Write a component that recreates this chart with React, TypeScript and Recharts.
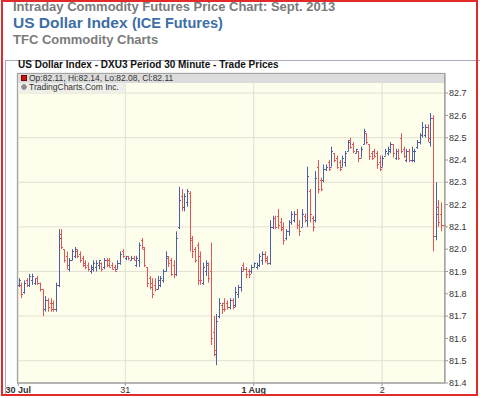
import { ComposedChart, Bar, XAxis, YAxis, CartesianGrid } from 'recharts';

// 30-minute OHLC bars, [open, high, low, close], one array per trading day
const jul30 = [
  [81.84, 81.87, 81.83, 81.86], [81.84, 81.85, 81.78, 81.8], [81.81, 81.86, 81.8, 81.85], [81.86, 81.87, 81.83, 81.84],
  [81.84, 81.89, 81.83, 81.88], [81.86, 81.89, 81.84, 81.88], [81.85, 81.87, 81.84, 81.87], [81.87, 81.88, 81.84, 81.85],
  [81.85, 81.85, 81.81, 81.82], [81.82, 81.82, 81.7, 81.73], [81.73, 81.79, 81.72, 81.77], [81.77, 81.78, 81.72, 81.74],
  [81.76, 81.78, 81.72, 81.73], [81.76, 81.77, 81.72, 81.73], [81.73, 81.85, 81.72, 81.84], [81.84, 82.09, 81.83, 82.05],
  [82.07, 82.09, 82.0, 82.01], [82.0, 82.0, 81.94, 81.95], [81.97, 81.99, 81.91, 81.93], [81.91, 81.96, 81.9, 81.95],
  [81.95, 82.0, 81.95, 81.99], [81.97, 82.01, 81.96, 82.0], [81.99, 82.0, 81.96, 81.97], [81.98, 81.99, 81.94, 81.95],
  [81.96, 81.97, 81.92, 81.93], [81.94, 81.95, 81.91, 81.92], [81.93, 81.94, 81.9, 81.91], [81.9, 81.93, 81.89, 81.92],
  [81.91, 81.95, 81.9, 81.94], [81.92, 81.95, 81.9, 81.94], [81.93, 81.95, 81.91, 81.95], [81.94, 81.94, 81.9, 81.91],
  [81.92, 81.96, 81.91, 81.95], [81.95, 81.96, 81.92, 81.93], [81.95, 81.96, 81.92, 81.92], [81.93, 81.94, 81.91, 81.91],
  [81.92, 81.93, 81.9, 81.9], [81.91, 81.95, 81.91, 81.94], [81.94, 81.99, 81.93, 81.98], [81.99, 82.0, 81.96, 81.97],
];

const jul31 = [
  [81.96, 81.97, 81.95, 81.97], [81.97, 81.97, 81.95, 81.96], [81.95, 81.97, 81.95, 81.96], [81.96, 81.97, 81.95, 81.95],
  [81.93, 81.97, 81.92, 81.96], [81.95, 82.03, 81.92, 82.02], [82.04, 82.05, 82.0, 82.01], [82.0, 82.01, 81.92, 81.93],
  [81.92, 81.92, 81.83, 81.85], [81.87, 81.88, 81.82, 81.83], [81.85, 81.87, 81.78, 81.8], [81.84, 81.87, 81.81, 81.82],
  [81.82, 81.88, 81.82, 81.86], [81.84, 81.88, 81.83, 81.87], [81.86, 81.91, 81.85, 81.9], [81.9, 81.99, 81.9, 81.97],
  [81.96, 81.97, 81.92, 81.94], [81.95, 81.96, 81.88, 81.89], [81.93, 81.95, 81.87, 81.89], [81.89, 82.08, 81.88, 82.05],
  [82.1, 82.28, 82.09, 82.22], [82.24, 82.27, 82.17, 82.19], [82.19, 82.25, 82.17, 82.24], [82.21, 82.27, 82.19, 82.26],
  [82.25, 82.26, 81.99, 82.04], [82.05, 82.06, 81.96, 81.99], [82.0, 82.01, 81.94, 81.95], [82.02, 82.03, 81.84, 81.86],
  [81.97, 81.99, 81.84, 81.86], [81.85, 81.94, 81.84, 81.92], [81.9, 81.95, 81.88, 81.94], [81.93, 81.94, 81.85, 81.87],
  [81.9, 82.03, 81.57, 81.6], [81.63, 81.7, 81.52, 81.55], [81.53, 81.71, 81.48, 81.68], [81.7, 81.78, 81.69, 81.76],
  [81.75, 81.76, 81.71, 81.73], [81.76, 81.78, 81.72, 81.73], [81.76, 81.77, 81.73, 81.74], [81.74, 81.78, 81.73, 81.77],
  [81.77, 81.78, 81.73, 81.74], [81.75, 81.83, 81.74, 81.81], [81.8, 81.84, 81.78, 81.83], [81.83, 81.92, 81.81, 81.9],
  [81.93, 81.94, 81.9, 81.91], [81.91, 81.92, 81.87, 81.89], [81.9, 81.91, 81.87, 81.89], [81.9, 81.93, 81.89, 81.92],
];

const aug1 = [
  [81.92, 81.94, 81.92, 81.94], [81.92, 81.94, 81.91, 81.93], [81.93, 81.98, 81.92, 81.97], [81.95, 81.99, 81.93, 81.98],
  [81.98, 81.99, 81.94, 81.95], [81.96, 81.97, 81.93, 81.94], [81.94, 82.13, 81.93, 82.1], [82.1, 82.15, 82.09, 82.14],
  [82.14, 82.15, 82.09, 82.1], [82.15, 82.18, 82.09, 82.11], [82.12, 82.14, 82.08, 82.09], [82.1, 82.12, 82.02, 82.04],
  [82.05, 82.09, 82.04, 82.08], [82.08, 82.13, 82.06, 82.12], [82.12, 82.17, 82.11, 82.16], [82.13, 82.17, 82.12, 82.16],
  [82.16, 82.18, 82.09, 82.11], [82.11, 82.13, 82.06, 82.08], [82.1, 82.18, 82.1, 82.16], [82.15, 82.16, 82.12, 82.13],
  [82.13, 82.37, 82.1, 82.33], [82.26, 82.27, 82.12, 82.16], [82.14, 82.15, 82.08, 82.1], [82.13, 82.35, 82.12, 82.32],
  [82.37, 82.4, 82.25, 82.27], [82.31, 82.32, 82.26, 82.27], [82.31, 82.38, 82.3, 82.36], [82.36, 82.38, 82.35, 82.37],
  [82.39, 82.4, 82.35, 82.36], [82.37, 82.46, 82.37, 82.44], [82.43, 82.43, 82.39, 82.4], [82.41, 82.42, 82.36, 82.37],
  [82.39, 82.4, 82.35, 82.36], [82.37, 82.42, 82.37, 82.41], [82.39, 82.44, 82.37, 82.43], [82.44, 82.49, 82.44, 82.48],
  [82.49, 82.5, 82.45, 82.46], [82.47, 82.48, 82.43, 82.44], [82.43, 82.45, 82.43, 82.45], [82.44, 82.44, 82.39, 82.41],
  [82.41, 82.46, 82.41, 82.45], [82.47, 82.54, 82.47, 82.53], [82.52, 82.52, 82.47, 82.48], [82.47, 82.47, 82.4, 82.42],
  [82.43, 82.44, 82.4, 82.41], [82.44, 82.45, 82.41, 82.42], [82.43, 82.44, 82.36, 82.38], [82.39, 82.42, 82.35, 82.36],
];

const aug2 = [
  [82.37, 82.42, 82.37, 82.41], [82.42, 82.45, 82.42, 82.44], [82.43, 82.46, 82.42, 82.45], [82.44, 82.48, 82.43, 82.47],
  [82.47, 82.47, 82.41, 82.43], [82.41, 82.45, 82.4, 82.44], [82.44, 82.45, 82.4, 82.41], [82.5, 82.52, 82.43, 82.44],
  [82.45, 82.46, 82.41, 82.42], [82.4, 82.45, 82.39, 82.44], [82.44, 82.45, 82.39, 82.4], [82.4, 82.46, 82.39, 82.44],
  [82.4, 82.45, 82.39, 82.44], [82.46, 82.49, 82.45, 82.48], [82.48, 82.52, 82.47, 82.51], [82.51, 82.57, 82.5, 82.55],
  [82.51, 82.56, 82.5, 82.55], [82.55, 82.56, 82.48, 82.5], [82.48, 82.61, 82.46, 82.59], [82.59, 82.6, 81.99, 82.06],
  [82.06, 82.3, 82.04, 82.16], [82.19, 82.22, 82.1, 82.12], [82.16, 82.21, 82.08, 82.11], [82.11, 82.14, 82.08, 82.11],
];

const dayStarts = [0, 40, 88, 136];
const dayLabels = ['30 Jul', '31', '1 Aug', '2'];
const yTicks = [81.4, 81.5, 81.6, 81.7, 81.8, 81.9, 82.0, 82.1, 82.2, 82.3, 82.4, 82.5, 82.6, 82.7];

const UP = '#4f5ea4';
const DOWN = '#e25656';
const FONT = '"Liberation Sans", Arial, Helvetica, sans-serif';

const data = [...jul30, ...jul31, ...aug1, ...aug2].map(([o, h, l, c], i) => ({
  i,
  o,
  h,
  l,
  c,
  range: [l, h],
}));

const last = data[data.length - 1];
const legendText = `Op:${last.o.toFixed(2)}, Hi:${last.h.toFixed(2)}, Lo:${last.l.toFixed(2)}, Cl:${last.c.toFixed(2)}`;

function OhlcBar(props: any) {
  const { x, y, width, height, payload } = props;
  if (x == null || y == null || !payload) return null;
  const top = Math.min(y, y + height);
  const bot = Math.max(y, y + height);
  const { o, h, l, c } = payload;
  const span = h - l || 1;
  const py = (v: number) => Math.round(top + ((h - v) / span) * (bot - top)) + 0.5;
  const cx = Math.round(x + width / 2) + 0.5;
  const color = c > o ? UP : DOWN;
  return (
    <g stroke={color} strokeWidth={1} fill="none">
      <line x1={cx} x2={cx} y1={top} y2={Math.max(bot, top + 1)} />
      <line x1={cx - 1.5} x2={cx} y1={py(o)} y2={py(o)} />
      <line x1={cx} x2={cx + 1.5} y1={py(c)} y2={py(c)} />
    </g>
  );
}

function DayTick(props: any) {
  const { x, y, payload } = props;
  const k = dayStarts.indexOf(payload.value);
  const label = k >= 0 ? dayLabels[k] : '';
  const bold = /[A-Za-z]/.test(label);
  return (
    <text x={x} y={y} dy="0.72em" textAnchor="middle" fontSize={9} fontWeight={bold ? 700 : 400} fill="#333" fontFamily={FONT}>
      {label}
    </text>
  );
}

export default function App() {
  return (
    <div style={{ position: 'absolute', left: 0, top: 0, width: 480, height: 398, background: '#fff', fontFamily: FONT }}>
      <ComposedChart
        width={480}
        height={398}
        data={data}
        margin={{ top: 73, right: 0, bottom: 0, left: 17 }}
        barCategoryGap={0}
      >
        <CartesianGrid stroke="#e2e0d4" fill="#fefeec" />
        <XAxis
          dataKey="i"
          ticks={dayStarts}
          interval={0}
          height={15}
          tickSize={3}
          tickMargin={1}
          stroke="#9a9a9a"
          tick={<DayTick />}
        />
        <YAxis
          orientation="right"
          domain={[81.4, 82.79]}
          ticks={yTicks}
          allowDataOverflow
          width={35}
          tickSize={3}
          tickMargin={1}
          stroke="#9a9a9a"
          tick={{ fontSize: 9, fill: '#333', fontFamily: FONT }}
          tickFormatter={(v: number) => v.toFixed(1)}
        />
        <Bar dataKey="range" shape={<OhlcBar />} isAnimationActive={false} />
      </ComposedChart>

      <svg width={480} height={398} style={{ position: 'absolute', left: 0, top: 0, pointerEvents: 'none' }}>
        <text x={13} y={11} fontSize={13} fontWeight={700} fill="#7b7b7b" fontFamily={FONT}>
          Intraday Commodity Futures Price Chart: Sept. 2013
        </text>
        <text x={13} y={28} fontWeight={700} fill="#3d6ea6" fontFamily={FONT}>
          <tspan fontSize={15.5}>US Dollar Index </tspan>
          <tspan fontSize={14.5}>(ICE Futures)</tspan>
        </text>
        <text x={13} y={44} fontSize={13} fontWeight={700} fill="#7b7b7b" fontFamily={FONT}>
          TFC Commodity Charts
        </text>

        <line x1={5} x2={480} y1={60.5} y2={60.5} stroke="#a8a8b8" />
        <line x1={5.5} x2={5.5} y1={60} y2={396} stroke="#a8a8b8" />

        <text x={18} y={68} fontSize={10} fontWeight={700} fill="#111" fontFamily={FONT}>
          US Dollar Index - DXU3 Period 30 Minute - Trade Prices
        </text>

        <rect x={17.5} y={73.5} width={427} height={309.5} fill="none" stroke="#a4a4a4" />
        <rect x={18} y={74} width={426} height={9} fill="#dcdcdc" />
        <rect x={18} y={83} width={107} height={9} fill="#eeeeea" />
        <rect x={21.5} y={75.5} width={5} height={5} fill="#c81414" stroke="#700" />
        <text x={29} y={81} fontSize={8.5} fill="#333" fontFamily={FONT}>
          {legendText}
        </text>
        <circle cx={24} cy={87} r={2.3} fill="#bbb" stroke="#666" strokeWidth={0.8} />
        <line x1={21.7} x2={26.3} y1={87} y2={87} stroke="#666" strokeWidth={0.6} />
        <line x1={24} x2={24} y1={84.7} y2={89.3} stroke="#666" strokeWidth={0.6} />
        <text x={29} y={90} fontSize={8.5} fill="#333" fontFamily={FONT}>
          TradingCharts.Com Inc.
        </text>

        <rect x={2} y={1} width={475} height={394} fill="none" stroke="#e12a2a" strokeWidth={2} />
      </svg>
    </div>
  );
}
